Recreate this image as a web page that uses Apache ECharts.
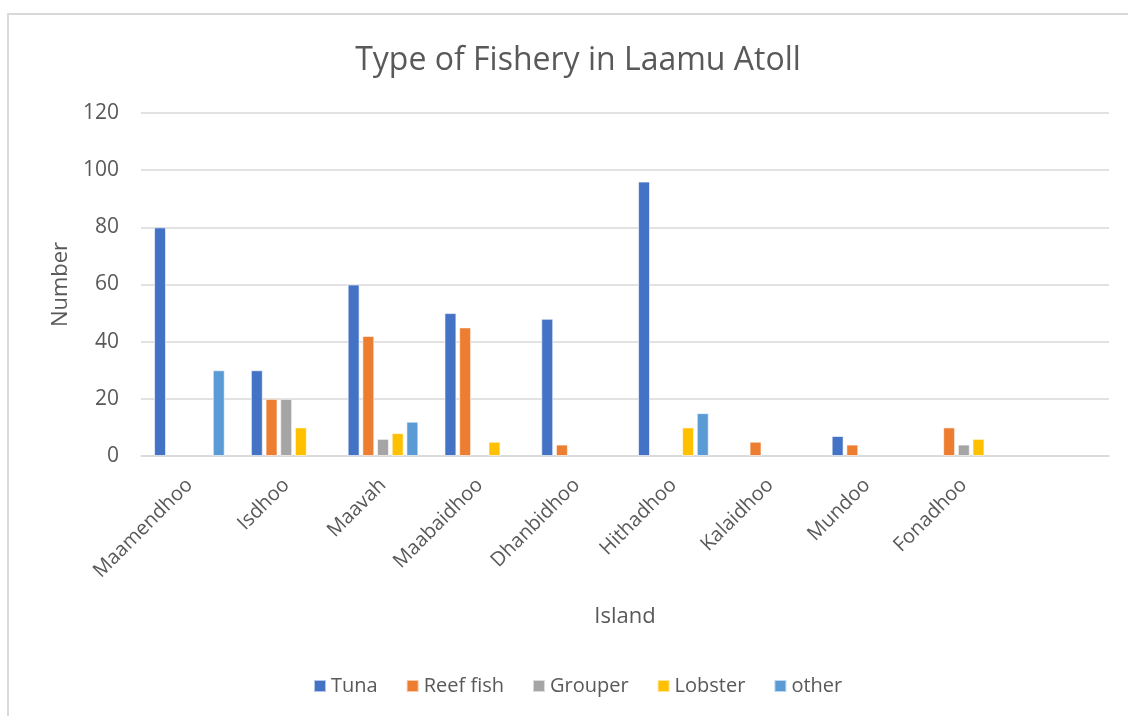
<!DOCTYPE html>
<html>
<head>
<meta charset="utf-8">
<script src="https://cdn.jsdelivr.net/npm/echarts@6/dist/echarts.min.js"></script>
<style>
  html, body { margin: 0; padding: 0; background: #fff; }
  #main { width: 1128px; height: 716px; }
</style>
</head>
<body>
<div id="main"></div>
<script>
// islands (last slot is empty in the original sheet)
let islands = ['Maamendhoo', 'Isdhoo', 'Maavah', 'Maabaidhoo', 'Dhanbidhoo',
  'Hithadhoo', 'Kalaidhoo', 'Mundoo', 'Fonadhoo', ''];
let tuna     = [80, 30, 60, 50, 48, 96, null, 7, null, null];
let reefFish = [null, 20, 42, 45, 4, null, 5, 4, 10, null];
let grouper  = [null, 20, 6, null, null, null, null, null, 4, null];
let lobster  = [null, 10, 8, 5, null, 10, null, null, 6, null];
let other    = [30, null, 12, null, null, 15, null, null, null, null];

let textColor = '#595959';
let font = '"Open Sans", sans-serif';

function bar (name, data, color)
{
  return {
    name: name,
    type: 'bar',
    data: data,
    barGap: '23%',
    barCategoryGap: '27%',
    itemStyle: { color: color, borderColor: 'rgba(255,255,255,0.6)', borderWidth: 1 },
    animation: false
  };
}

let chart = echarts.init(document.getElementById('main'));
let option = {
  backgroundColor: '#fff',
  textStyle: { fontFamily: font },
  title: {
    text: 'Type of Fishery in Laamu Atoll',
    left: 573,
    top: 40,
    textAlign: 'center',
    textStyle: { fontFamily: font, fontSize: 32, fontWeight: 'normal', color: textColor }
  },
  graphic: [
    {
      type: 'polyline',
      shape: { points: [[8, 716], [8, 14], [1128, 14]] },
      style: { stroke: '#d9d9d9', lineWidth: 2, fill: null }
    }
  ],
  legend: {
    bottom: 15,
    left: 308,
    itemWidth: 12,
    itemHeight: 12,
    itemGap: 28,
    icon: 'rect',
    textStyle: { fontFamily: font, fontSize: 20, color: textColor },
    data: ['Tuna', 'Reef fish', 'Grouper', 'Lobster', 'other']
  },
  grid: {
    left: 141,
    right: 19,
    top: 113,
    bottom: 260
  },
  xAxis: {
    type: 'category',
    data: islands,
    name: 'Island',
    nameLocation: 'middle',
    nameGap: 150,
    nameTextStyle: { fontFamily: font, fontSize: 22, color: textColor },
    axisLine: { lineStyle: { color: '#d9d9d9', width: 1.5 } },
    axisTick: { show: false },
    axisLabel: {
      interval: 0,
      rotate: 45,
      margin: 26,
      fontFamily: font,
      fontSize: 20,
      color: textColor
    }
  },
  yAxis: {
    type: 'value',
    min: 0,
    max: 120,
    interval: 20,
    name: 'Number',
    nameLocation: 'middle',
    nameGap: 68,
    nameTextStyle: { fontFamily: font, fontSize: 22, color: textColor },
    axisLine: { show: false },
    axisTick: { show: false },
    axisLabel: { fontFamily: font, fontSize: 21, color: textColor, margin: 22 },
    splitLine: { lineStyle: { color: '#d9d9d9', width: 1.5 } }
  },
  series: [
    bar('Tuna', tuna, '#4472C4'),
    bar('Reef fish', reefFish, '#ED7D31'),
    bar('Grouper', grouper, '#A5A5A5'),
    bar('Lobster', lobster, '#FFC000'),
    bar('other', other, '#5B9BD5')
  ]
};
chart.setOption(option);
</script>
</body>
</html>
